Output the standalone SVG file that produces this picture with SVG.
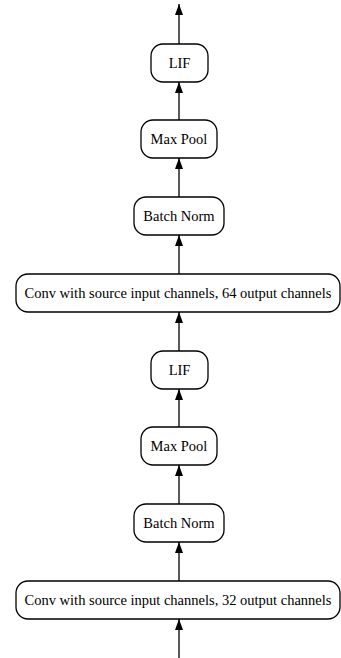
<svg xmlns="http://www.w3.org/2000/svg" width="341" height="658" viewBox="0 0 341 658">
<defs>
<marker id="ah" viewBox="0 0 11 8" refX="11" refY="4" markerWidth="11" markerHeight="8" markerUnits="userSpaceOnUse" orient="auto">
<path d="M0,0 L11,4 L0,8 Z" fill="#000"/>
</marker>
<style>
.n rect{fill:#fff;stroke:#000;stroke-width:1.3}
.n text{font-family:"Liberation Serif","Times New Roman",serif;font-size:14.5px;text-anchor:middle;fill:#000}
.e line{stroke:#000;stroke-width:1.3;marker-end:url(#ah)}
</style>
</defs>
<rect width="341" height="658" fill="#fff"/>
<g class="e" id="edges">
<line x1="179" y1="44" x2="179" y2="4"/>
<line x1="179" y1="120" x2="179" y2="82"/>
<line x1="179" y1="197" x2="179" y2="158"/>
<line x1="179" y1="274" x2="179" y2="235"/>
<line x1="179" y1="351" x2="179" y2="312"/>
<line x1="179" y1="427" x2="179" y2="389"/>
<line x1="179" y1="504" x2="179" y2="465"/>
<line x1="179" y1="581" x2="179" y2="542"/>
<line x1="179" y1="658" x2="179" y2="619"/>
</g>
<g class="n" id="lif2"><rect x="151" y="44" width="57" height="38" rx="12"/><text x="179.5" y="68">LIF</text></g>
<g class="n" id="pool2"><rect x="141" y="120" width="76" height="38" rx="12"/><text x="179" y="144">Max Pool</text></g>
<g class="n" id="bn2"><rect x="134" y="197" width="90" height="38" rx="12"/><text x="179" y="221">Batch Norm</text></g>
<g class="n" id="conv2"><rect x="16" y="274" width="324" height="38" rx="12"/><text x="178" y="298">Conv with source input channels, 64 output channels</text></g>
<g class="n" id="lif1"><rect x="151" y="351" width="57" height="38" rx="12"/><text x="179.5" y="375">LIF</text></g>
<g class="n" id="pool1"><rect x="141" y="427" width="76" height="38" rx="12"/><text x="179" y="451">Max Pool</text></g>
<g class="n" id="bn1"><rect x="134" y="504" width="90" height="38" rx="12"/><text x="179" y="528">Batch Norm</text></g>
<g class="n" id="conv1"><rect x="16" y="581" width="324" height="38" rx="12"/><text x="178" y="605">Conv with source input channels, 32 output channels</text></g>
</svg>
